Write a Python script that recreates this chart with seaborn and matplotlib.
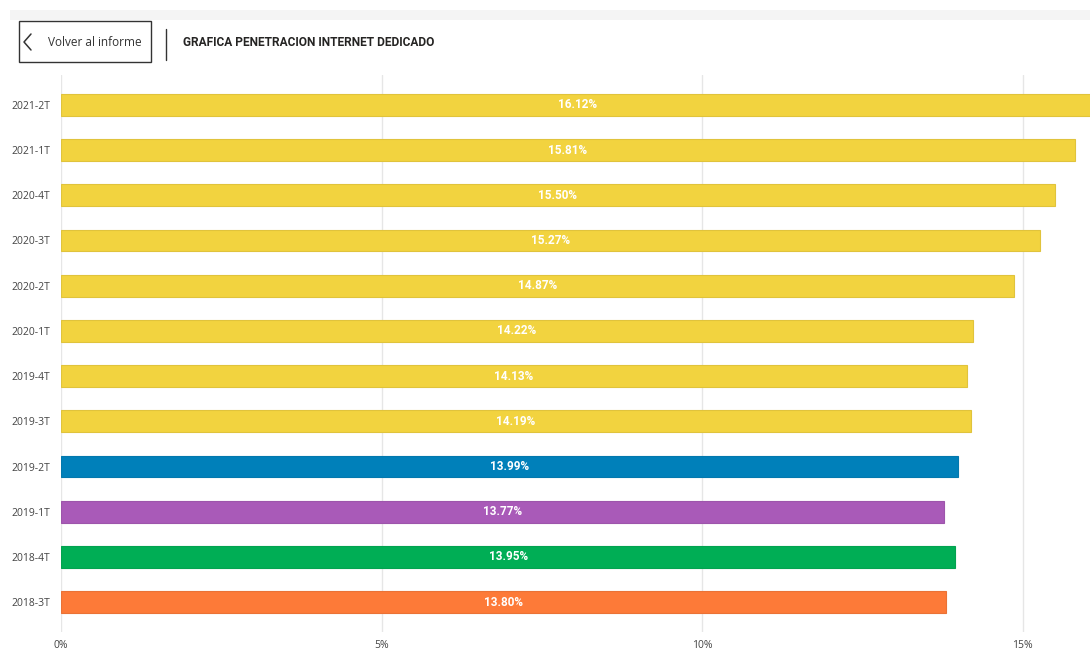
import matplotlib.pyplot as plt
import matplotlib.patches as mpatches
import matplotlib.lines as mlines
import pandas as pd
import seaborn as sns

# periodos de arriba hacia abajo
periodos = ["2021-2T", "2021-1T", "2020-4T", "2020-3T", "2020-2T", "2020-1T",
            "2019-4T", "2019-3T", "2019-2T", "2019-1T", "2018-4T", "2018-3T"]
penetracion = [16.12, 15.81, 15.50, 15.27, 14.87, 14.22,
               14.13, 14.19, 13.99, 13.77, 13.95, 13.80]
colores = ["#F2D33F"] * 8 + ["#0080BA", "#A95AB8", "#00AE55", "#FD7A38"]
ticks_x = [0, 5, 10, 15]
tick_labels_x = ["0%", "5%", "10%", "15%"]
titulo = "GRAFICA PENETRACION INTERNET DEDICADO"

sns.set_style("white")
plt.rcParams["font.family"] = ["Open Sans", "DejaVu Sans"]

df = pd.DataFrame({"Periodo": periodos, "Penetracion": penetracion})

fig = plt.figure(figsize=(10.9, 6.54), dpi=100)
ax = fig.add_axes([61 / 1090, 22 / 654, 1 - 61 / 1090, (632 - 75) / 654])

sns.barplot(
    df, x="Penetracion", y="Periodo", hue="Periodo",
    palette=colores, order=periodos, hue_order=periodos,
    orient="h", width=0.48, saturation=1, legend=False, ax=ax,
)

# borde ligeramente más oscuro en cada barra
for bar, c in zip(ax.patches, colores):
    bar.set_edgecolor(sns.dark_palette(c, n_colors=12)[10])
    bar.set_linewidth(0.8)

for bar, v in zip(ax.patches, penetracion):
    y = bar.get_y() + bar.get_height() / 2
    ax.text(v / 2, y, f"{v:.2f}%", ha="center", va="center",
            color="white", fontsize=8.5, fontweight="bold",
            family=["Roboto", "DejaVu Sans"])

ax.set_xlim(0, 16.05)
ax.set_ylim(11.66, -0.66)
ax.set_xticks(ticks_x)
ax.set_xticklabels(tick_labels_x)
ax.xaxis.grid(True, color="#e6e6e6", linewidth=1)
ax.set_axisbelow(True)
ax.set_xlabel("")
ax.set_ylabel("")
for s in ax.spines.values():
    s.set_visible(False)
ax.tick_params(axis="both", length=0, labelsize=7.5, labelcolor="#444444")
ax.tick_params(axis="x", pad=6)
ax.tick_params(axis="y", pad=8)

# cabecera
fig.patches.append(mpatches.Rectangle((10 / 1090, 1 - 20 / 654), 1, 10 / 654,
                                      transform=fig.transFigure,
                                      facecolor="#f4f4f4", edgecolor="none"))
fig.patches.append(mpatches.Rectangle((19 / 1090, 1 - 62 / 654), 132 / 1090, 41 / 654,
                                      transform=fig.transFigure,
                                      facecolor="white", edgecolor="#333333",
                                      linewidth=1))
fig.lines.append(mlines.Line2D([31 / 1090, 24 / 1090, 31 / 1090],
                               [1 - 34 / 654, 1 - 42 / 654, 1 - 50 / 654],
                               transform=fig.transFigure, color="#333333",
                               linewidth=1.1))
fig.text(48 / 1090, 1 - 42 / 654, "Volver al informe", fontsize=8.5,
         color="#333333", va="center", ha="left")
fig.lines.append(mlines.Line2D([166 / 1090, 166 / 1090],
                               [1 - 29 / 654, 1 - 60 / 654],
                               transform=fig.transFigure, color="#333333",
                               linewidth=1))
fig.text(183 / 1090, 1 - 42 / 654, titulo, fontsize=8.6, fontweight="bold",
         color="#252423", va="center", ha="left",
         family=["Roboto", "DejaVu Sans"])

fig.savefig("out.png", dpi=100)
